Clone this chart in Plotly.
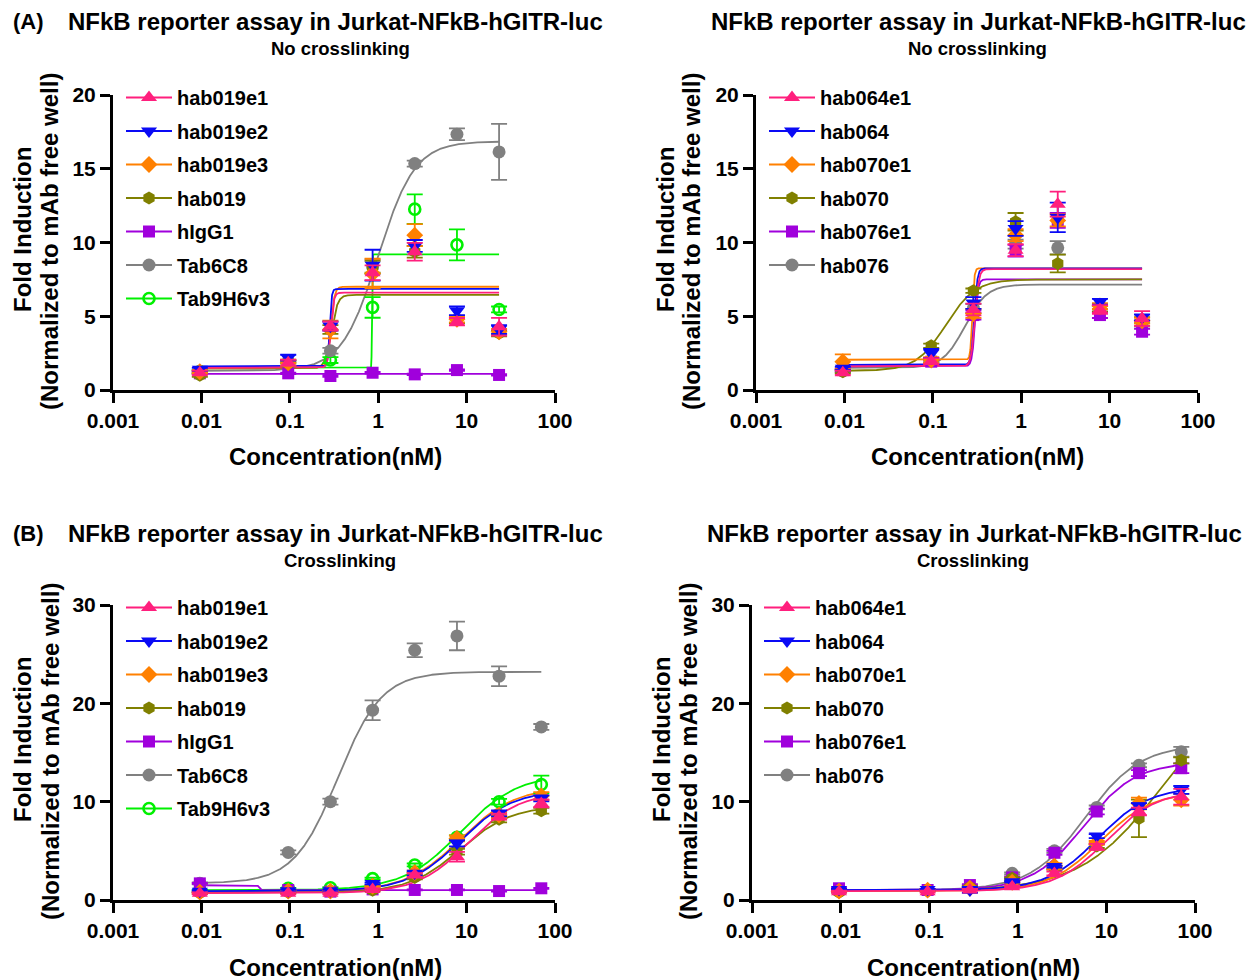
import numpy as np
import plotly.graph_objects as go

# ---------------- data ----------------
conc_nox = [0.0096, 0.096, 0.288, 0.864, 2.59, 7.78, 23.3]
conc_x = [0.0096, 0.096, 0.288, 0.864, 2.59, 7.78, 23.3, 70]
y_ticks_nox = [0, 5, 10, 15, 20]
y_ticks_x = [0, 10, 20, 30]
x_tick_vals = [0.001, 0.01, 0.1, 1, 10, 100]
x_tick_text = ["0.001", "0.01", "0.1", "1", "10", "100"]

# Panel A left (no crosslinking)
a1_names = ["hab019e1", "hab019e2", "hab019e3", "hab019", "hIgG1", "Tab6C8", "Tab9H6v3"]
a1_hab019e1 = [1.17, 1.85, 4.33, 7.95, 9.37, 4.63, 4.29]
a1_hab019e2 = [1.40, 2.19, 4.33, 8.46, 9.77, 5.37, 4.10]
a1_hab019e3 = [1.24, 1.85, 4.10, 7.90, 10.5, 4.79, 3.95]
a1_hab019 = [1.00, 1.80, 4.10, 8.35, 9.37, 4.74, 3.84]
a1_hIgG1 = [1.13, 1.13, 0.95, 1.17, 1.06, 1.35, 1.02]
a1_Tab6C8 = [1.25, 1.75, 2.66, 8.35, 15.35, 17.34, 16.14]
a1_Tab9H6v3 = [1.25, 1.90, 2.03, 5.60, 12.26, 9.84, 5.46]
a1_err_hab019e1 = [0.15, 0.2, 0.3, 0.5, 0.6, 0.25, 0.6]
a1_err_hab019e2 = [0.1, 0.2, 0.3, 1.05, 0.4, 0.3, 0.3]
a1_err_hab019e3 = [0.1, 0.2, 0.6, 1.0, 0.75, 0.2, 0.2]
a1_err_hab019 = [0.1, 0.2, 0.3, 0.4, 0.4, 0.2, 0.2]
a1_err_hIgG1 = [0.05, 0.05, 0.05, 0.05, 0.05, 0.05, 0.05]
a1_err_Tab6C8 = [0.1, 0.1, 0.2, 0.5, 0.2, 0.4, 1.9]
a1_err_Tab9H6v3 = [0.1, 0.1, 0.2, 0.7, 1.0, 1.05, 0.2]
# fitted curve parameters: bottom, top, EC50 (nM), Hill slope
a1_fit_bottom = [1.5, 1.6, 1.5, 1.45, 1.1, 1.3, 1.5]
a1_fit_top = [6.6, 6.85, 7.0, 6.45, 1.1, 16.85, 9.2]
a1_fit_ec50 = [0.29, 0.283, 0.29, 0.295, 1.0, 1.0, 0.85]
a1_fit_hill = [25, 40, 20, 12, 1, 2.1, 200]

# Panel A right (no crosslinking)
a2_names = ["hab064e1", "hab064", "hab070e1", "hab070", "hab076e1", "hab076"]
a2_hab064e1 = [1.17, 1.96, 5.46, 9.48, 12.6, 5.46, 4.85]
a2_hab064 = [1.47, 2.48, 5.90, 10.95, 11.7, 5.98, 4.92]
a2_hab070e1 = [1.92, 2.03, 5.19, 10.5, 11.5, 5.69, 4.70]
a2_hab070 = [1.24, 3.00, 6.73, 11.4, 8.58, 5.53, 4.74]
a2_hab076e1 = [1.35, 1.92, 5.08, 9.44, 11.5, 5.08, 3.95]
a2_hab076 = [1.30, 2.00, 5.53, 9.89, 9.64, 5.50, 4.50]
a2_err_hab064e1 = [0.15, 0.2, 0.4, 0.4, 0.85, 0.3, 0.5]
a2_err_hab064 = [0.1, 0.3, 0.4, 0.5, 1.0, 0.2, 0.2]
a2_err_hab070e1 = [0.5, 0.2, 0.3, 0.4, 0.4, 0.2, 0.2]
a2_err_hab070 = [0.1, 0.15, 0.15, 0.6, 0.6, 0.2, 0.2]
a2_err_hab076e1 = [0.1, 0.1, 0.3, 0.4, 0.5, 0.2, 0.2]
a2_err_hab076 = [0.1, 0.1, 0.3, 0.3, 0.45, 0.2, 0.2]
a2_fit_bottom = [1.6, 1.7, 2.05, 1.3, 1.6, 1.5]
a2_fit_top = [8.2, 8.25, 8.25, 7.5, 7.5, 7.15]
a2_fit_ec50 = [0.30, 0.295, 0.28, 0.14, 0.30, 0.23]
a2_fit_hill = [20, 25, 40, 2.6, 25, 3.5]

# Panel B left (crosslinking)
b1_names = ["hab019e1", "hab019e2", "hab019e3", "hab019", "hIgG1", "Tab6C8", "Tab9H6v3"]
b1_hab019e1 = [0.68, 0.68, 0.68, 1.08, 2.54, 4.40, 8.47, 9.82]
b1_hab019e2 = [0.90, 0.95, 0.95, 1.69, 2.71, 5.76, 8.80, 10.33]
b1_hab019e3 = [0.80, 0.90, 0.90, 1.40, 2.78, 6.26, 8.64, 10.57]
b1_hab019 = [0.70, 0.80, 0.85, 1.00, 2.30, 4.91, 8.20, 9.08]
b1_hIgG1 = [1.69, 1.02, 0.85, 1.08, 1.02, 1.02, 0.91, 1.19]
b1_Tab6C8 = [1.70, 4.84, 10.0, 19.3, 25.4, 26.85, 22.76, 17.6]
b1_Tab9H6v3 = [1.00, 1.19, 1.25, 2.17, 3.56, 6.37, 9.99, 11.75]
b1_err_hab019e1 = [0.1, 0.1, 0.1, 0.1, 0.2, 0.5, 0.3, 0.4]
b1_err_hab019e2 = [0.1, 0.1, 0.1, 0.1, 0.2, 0.3, 0.3, 0.3]
b1_err_hab019e3 = [0.1, 0.1, 0.1, 0.1, 0.2, 0.3, 0.3, 0.4]
b1_err_hab019 = [0.1, 0.1, 0.1, 0.1, 0.2, 0.3, 0.3, 0.3]
b1_err_hIgG1 = [0.05, 0.05, 0.05, 0.05, 0.05, 0.05, 0.05, 0.05]
b1_err_Tab6C8 = [0.1, 0.2, 0.3, 1.0, 0.7, 1.45, 1.0, 0.3]
b1_err_Tab9H6v3 = [0.05, 0.05, 0.05, 0.1, 0.15, 0.2, 0.3, 0.9]
b1_fit_bottom = [0.7, 0.9, 0.85, 0.75, 1.5, 1.7, 1.0]
b1_fit_top = [11.0, 11.2, 11.5, 9.6, 1.0, 23.2, 12.8]
b1_fit_ec50 = [10.5, 8.5, 8.5, 8.5, 0.045, 0.35, 8.5]
b1_fit_hill = [1.5, 1.45, 1.4, 1.5, 60, 1.75, 1.35]

# Panel B right (crosslinking)
b2_names = ["hab064e1", "hab064", "hab070e1", "hab070", "hab076e1", "hab076"]
b2_hab064e1 = [0.85, 0.85, 1.02, 1.35, 2.70, 5.40, 9.00, 10.5]
b2_hab064 = [1.08, 1.08, 1.02, 1.86, 3.40, 6.50, 9.55, 11.2]
b2_hab070e1 = [0.90, 1.00, 1.20, 1.80, 3.45, 5.80, 9.82, 10.2]
b2_hab070 = [0.80, 1.00, 1.30, 2.20, 3.30, 5.49, 8.30, 14.2]
b2_hab076e1 = [1.19, 1.02, 1.52, 2.30, 4.80, 9.00, 12.9, 13.4]
b2_hab076 = [0.90, 1.00, 1.40, 2.71, 5.00, 9.41, 13.7, 15.07]
b2_err_hab064e1 = [0.1, 0.1, 0.1, 0.1, 0.2, 0.3, 0.4, 0.8]
b2_err_hab064 = [0.05, 0.05, 0.3, 0.1, 0.1, 0.2, 0.3, 0.4]
b2_err_hab070e1 = [0.1, 0.1, 0.1, 0.1, 0.3, 0.2, 0.6, 0.6]
b2_err_hab070 = [0.05, 0.05, 0.1, 0.1, 0.2, 0.2, 1.9, 0.3]
b2_err_hab076e1 = [0.1, 0.1, 0.1, 0.1, 0.2, 0.3, 0.3, 0.5]
b2_err_hab076 = [0.05, 0.05, 0.1, 0.1, 0.2, 0.2, 0.2, 0.5]
b2_fit_bottom = [0.9, 1.0, 0.9, 0.9, 1.0, 1.0]
b2_fit_top = [11.2, 11.5, 11.0, 22.0, 14.0, 15.8]
b2_fit_ec50 = [10.0, 8.0, 8.5, 42.0, 5.5, 5.8]
b2_fit_hill = [1.5, 1.5, 1.5, 0.95, 1.5, 1.4]

# ---------------- styles ----------------
FONT = "Liberation Sans, Arial, Helvetica, sans-serif"
PINK, BLUE, ORANGE, OLIVE, PURPLE, GREY, GREEN = (
    "#FF1F7D", "#0A0AF5", "#FF8000", "#808000", "#A000DC", "#808080", "#00F000")
style_left = [
    (PINK, "triangle-up", 14), (BLUE, "triangle-down", 14), (ORANGE, "diamond", 13),
    (OLIVE, "hexagon", 13), (PURPLE, "square", 12), (GREY, "circle", 13),
    (GREEN, "circle-open", 11),
]
style_right = [
    (PINK, "triangle-up", 14), (BLUE, "triangle-down", 14), (ORANGE, "diamond", 13),
    (OLIVE, "hexagon", 13), (PURPLE, "square", 12), (GREY, "circle", 13),
]

W, H = 1250, 980


def px(x):
    return x / W


def py(y):
    return 1 - y / H


def four_pl(x, bottom, top, ec50, hill):
    z = np.clip(hill * (np.log10(ec50) - np.log10(x)), -60, 60)
    return bottom + (top - bottom) / (1 + 10 ** z)


panels = [
    dict(conc=conc_nox, names=a1_names,
         ys=[a1_hab019e1, a1_hab019e2, a1_hab019e3, a1_hab019, a1_hIgG1, a1_Tab6C8, a1_Tab9H6v3],
         errs=[a1_err_hab019e1, a1_err_hab019e2, a1_err_hab019e3, a1_err_hab019,
               a1_err_hIgG1, a1_err_Tab6C8, a1_err_Tab9H6v3],
         fit=(a1_fit_bottom, a1_fit_top, a1_fit_ec50, a1_fit_hill), styles=style_left,
         yticks=y_ticks_nox, xd=[px(113), px(555)], yd=[py(390), py(95)],
         legend=dict(x=px(121), y=py(78))),
    dict(conc=conc_nox, names=a2_names,
         ys=[a2_hab064e1, a2_hab064, a2_hab070e1, a2_hab070, a2_hab076e1, a2_hab076],
         errs=[a2_err_hab064e1, a2_err_hab064, a2_err_hab070e1, a2_err_hab070,
               a2_err_hab076e1, a2_err_hab076],
         fit=(a2_fit_bottom, a2_fit_top, a2_fit_ec50, a2_fit_hill), styles=style_right,
         yticks=y_ticks_nox, xd=[px(756), px(1198)], yd=[py(390), py(95)],
         legend=dict(x=px(764), y=py(78))),
    dict(conc=conc_x, names=b1_names,
         ys=[b1_hab019e1, b1_hab019e2, b1_hab019e3, b1_hab019, b1_hIgG1, b1_Tab6C8, b1_Tab9H6v3],
         errs=[b1_err_hab019e1, b1_err_hab019e2, b1_err_hab019e3, b1_err_hab019,
               b1_err_hIgG1, b1_err_Tab6C8, b1_err_Tab9H6v3],
         fit=(b1_fit_bottom, b1_fit_top, b1_fit_ec50, b1_fit_hill), styles=style_left,
         yticks=y_ticks_x, xd=[px(113), px(555)], yd=[py(900), py(605)],
         legend=dict(x=px(121), y=py(588))),
    dict(conc=conc_x, names=b2_names,
         ys=[b2_hab064e1, b2_hab064, b2_hab070e1, b2_hab070, b2_hab076e1, b2_hab076],
         errs=[b2_err_hab064e1, b2_err_hab064, b2_err_hab070e1, b2_err_hab070,
               b2_err_hab076e1, b2_err_hab076],
         fit=(b2_fit_bottom, b2_fit_top, b2_fit_ec50, b2_fit_hill), styles=style_right,
         yticks=y_ticks_x, xd=[px(752), px(1195)], yd=[py(900), py(605)],
         legend=dict(x=px(759), y=py(588))),
]

fig = go.Figure()
layout = dict(width=W, height=H, margin=dict(l=0, r=0, t=0, b=0, autoexpand=False),
              paper_bgcolor="white", plot_bgcolor="white", showlegend=True,
              font=dict(family=FONT, color="black"))
annotations = []

for i, p in enumerate(panels):
    n = i + 1
    xa = "x" if n == 1 else f"x{n}"
    ya = "y" if n == 1 else f"y{n}"
    lg = "legend" if n == 1 else f"legend{n}"
    conc = p["conc"]
    xs_fit = np.logspace(np.log10(conc[0]), np.log10(conc[-1]), 2000)
    bottoms, tops, ec50s, hills = p["fit"]
    # fitted curves (drawn first, under markers)
    for k in reversed(range(len(p["names"]))):
        color = p["styles"][k][0]
        fig.add_trace(go.Scatter(
            x=xs_fit, y=four_pl(xs_fit, bottoms[k], tops[k], ec50s[k], hills[k]),
            mode="lines", line=dict(color=color, width=1.8), showlegend=False,
            hoverinfo="skip", xaxis=xa, yaxis=ya, cliponaxis=False))
    # data points with error bars (first series drawn on top)
    for k in reversed(range(len(p["names"]))):
        color, sym, size = p["styles"][k]
        mline = dict(width=2.6, color=color) if "open" in sym else dict(width=0)
        fig.add_trace(go.Scatter(
            x=conc, y=p["ys"][k], mode="markers", name=p["names"][k],
            marker=dict(color=color, symbol=sym, size=size, line=mline),
            error_y=dict(type="data", array=p["errs"][k], color=color,
                         thickness=1.8, width=8),
            showlegend=False, xaxis=xa, yaxis=ya, cliponaxis=False))
    # legend entries
    for k in range(len(p["names"])):
        color, sym, size = p["styles"][k]
        mline = dict(width=2.6, color=color) if "open" in sym else dict(width=0)
        fig.add_trace(go.Scatter(
            x=[None], y=[None], mode="lines+markers", name=p["names"][k],
            marker=dict(color=color, symbol=sym, size=size, line=mline),
            line=dict(color=color, width=1.8), legend=lg, legendrank=k + 1,
            legendgroup=f"g{n}_{k}", xaxis=xa, yaxis=ya))
    axis_common = dict(showline=True, linewidth=3, linecolor="black", ticks="outside",
                       ticklen=10, tickwidth=3, tickcolor="black", showgrid=False,
                       zeroline=False,
                       tickfont=dict(family=FONT, size=21, color="black", weight="bold"))
    layout["xaxis" if n == 1 else f"xaxis{n}"] = dict(
        type="log", range=[-3, 2], tickvals=x_tick_vals, ticktext=x_tick_text,
        domain=p["xd"], anchor=ya, **axis_common)
    layout["yaxis" if n == 1 else f"yaxis{n}"] = dict(
        range=[0, p["yticks"][-1]], tickvals=p["yticks"], domain=p["yd"], anchor=xa,
        **axis_common)
    layout[lg] = dict(x=p["legend"]["x"], y=p["legend"]["y"], xanchor="left", yanchor="top",
                      bgcolor="rgba(0,0,0,0)", borderwidth=0, traceorder="grouped",
                      tracegroupgap=4.5, itemwidth=46,
                      font=dict(family=FONT, size=20, color="black", weight="bold"))

# texts
def ann(text, x, y, size, xanchor="center", angle=0):
    annotations.append(dict(text=text, x=px(x), y=py(y), xref="paper", yref="paper",
                            showarrow=False, xanchor=xanchor, yanchor="middle",
                            textangle=angle,
                            font=dict(family=FONT, size=size, color="black", weight="bold")))

title = "NFkB reporter assay in Jurkat-NFkB-hGITR-luc"
ann("(A)", 11, 21, 22, xanchor="left")
ann("(B)", 11, 533, 22, xanchor="left")
ann(title, 335, 21, 24)
ann(title, 978, 21, 24)
ann(title, 335, 533, 24)
ann(title, 974, 533, 24)
ann("No crosslinking", 340, 48, 18.5)
ann("No crosslinking", 977, 48, 18.5)
ann("Crosslinking", 340, 560, 18.5)
ann("Crosslinking", 973, 560, 18.5)
ann("Concentration(nM)", 335, 456, 24)
ann("Concentration(nM)", 977, 456, 24)
ann("Concentration(nM)", 335, 967, 24)
ann("Concentration(nM)", 973, 967, 24)
for (x1, x2, yc) in [(22, 50, 242), (665, 692, 242), (22, 50, 752), (661, 688, 752)]:
    ann("Fold Induction", x1, yc - 12, 24, angle=-90)
    ann("(Normalized to mAb free well)", x2, yc, 24, angle=-90)

layout["annotations"] = annotations
fig.update_layout(**layout)
fig.write_html("out.html", config={"displayModeBar": False},
               post_script="document.body.style.margin='0';")
